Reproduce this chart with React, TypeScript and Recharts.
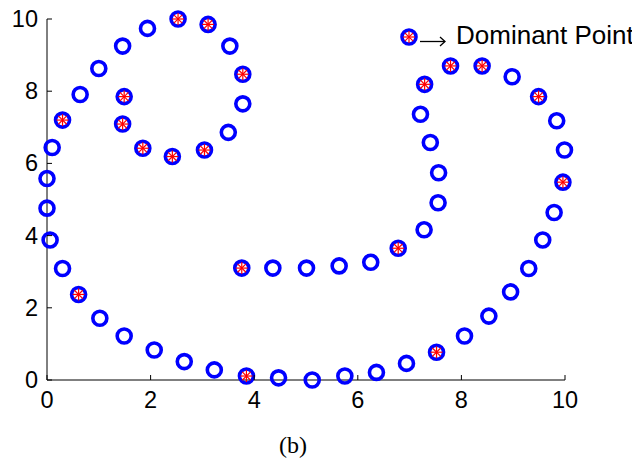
import React from 'react';
import { ScatterChart, Scatter, XAxis, YAxis } from 'recharts';

// contour points, in drawing order
const spiralX = [
  3.76, 4.36, 5.01, 5.64, 6.25, 6.78, 7.28, 7.55, 7.56, 7.4, 7.21, 7.29, 7.79, 8.4, 8.98,
  9.49, 9.84, 9.99, 9.96, 9.79, 9.57, 9.3, 8.95, 8.53, 8.06, 7.52, 6.94, 6.36, 5.75, 5.12,
  4.47, 3.85, 3.23, 2.65, 2.07, 1.49, 1.02, 0.61, 0.3, 0.06, 0.0, 0.0, 0.1, 0.3, 0.64,
  1.0, 1.46, 1.94, 2.53, 3.11, 3.53, 3.78, 3.78, 3.5, 3.04, 2.42, 1.85, 1.46, 1.49,
];
const spiralY = [
  3.1, 3.1, 3.1, 3.16, 3.26, 3.65, 4.16, 4.91, 5.74, 6.58, 7.36, 8.19, 8.7, 8.7, 8.4,
  7.85, 7.18, 6.37, 5.48, 4.64, 3.88, 3.09, 2.44, 1.77, 1.22, 0.77, 0.46, 0.21, 0.11, 0.0,
  0.06, 0.11, 0.28, 0.51, 0.83, 1.22, 1.71, 2.37, 3.09, 3.88, 4.76, 5.58, 6.44, 7.2, 7.91,
  8.63, 9.25, 9.74, 10.0, 9.85, 9.25, 8.47, 7.65, 6.86, 6.37, 6.19, 6.42, 7.09, 7.85,
];

// dominant points
const dominantX = [3.76, 6.78, 7.29, 7.79, 8.4, 9.49, 9.96, 7.52, 3.85, 0.61, 0.3, 2.53, 3.11, 3.78, 3.04, 2.42, 1.85, 1.46, 1.49];
const dominantY = [3.1, 3.65, 8.19, 8.7, 8.7, 7.85, 5.48, 0.77, 0.11, 2.37, 7.2, 10.0, 9.85, 8.47, 6.37, 6.19, 6.42, 7.09, 7.85];

const axisTicks = [0, 2, 4, 6, 8, 10];
const legendLabel = 'Dominant Point';
const caption = '(b)';

const spiral = spiralX.map((x, i) => ({ x, y: spiralY[i] }));
const dominant = dominantX.map((x, i) => ({ x, y: dominantY[i] }));

const BLUE = '#0000ff';
const RED = '#ff0000';
const FONT = 'Arial, "Liberation Sans", Helvetica, sans-serif';

const Ring = (props: any) => {
  const { cx, cy } = props;
  return <circle cx={cx} cy={cy} r={7} fill="none" stroke={BLUE} strokeWidth={3.6} />;
};

const Star = ({ cx, cy }: any) => {
  const d = 4.2;
  return (
    <g stroke={RED} strokeWidth={1.2}>
      <line x1={cx - 6} y1={cy} x2={cx + 6} y2={cy} />
      <line x1={cx} y1={cy - 6} x2={cx} y2={cy + 6} />
      <line x1={cx - d} y1={cy - d} x2={cx + d} y2={cy + d} />
      <line x1={cx - d} y1={cy + d} x2={cx + d} y2={cy - d} />
    </g>
  );
};

const XTick = ({ x, y, payload }: any) => (
  <g>
    <line x1={x} y1={y} x2={x} y2={y - 5} stroke="#000" />
    <text x={x} y={y + 28} textAnchor="middle" fontSize={23.5} fontFamily={FONT} fill="#000">
      {payload.value}
    </text>
  </g>
);

const YTick = ({ x, y, payload }: any) => (
  <g>
    <line x1={x} y1={y} x2={x + 5} y2={y} stroke="#000" />
    <text x={x - 9} y={y + 8} textAnchor="end" fontSize={23.5} fontFamily={FONT} fill="#000">
      {payload.value}
    </text>
  </g>
);

export default function App() {
  return (
    <div style={{ position: 'absolute', left: 0, top: 0, width: 632, height: 462, background: '#fff' }}>
      <ScatterChart width={632} height={462} margin={{ top: 19, right: 67, bottom: 52, left: 7 }}>
        <XAxis
          type="number"
          dataKey="x"
          domain={[0, 10]}
          ticks={axisTicks}
          height={30}
          axisLine={{ stroke: '#000' }}
          tickLine={false}
          tickSize={0}
          tickMargin={0}
          tick={<XTick />}
        />
        <YAxis
          type="number"
          dataKey="y"
          domain={[0, 10]}
          ticks={axisTicks}
          width={40}
          axisLine={{ stroke: '#000' }}
          tickLine={false}
          tickSize={0}
          tickMargin={0}
          tick={<YTick />}
        />
        <Scatter data={spiral} shape={<Ring />} isAnimationActive={false} />
        <Scatter data={dominant} shape={<Star />} isAnimationActive={false} />
      </ScatterChart>
      <svg width={632} height={462} style={{ position: 'absolute', left: 0, top: 0, pointerEvents: 'none' }}>
        <Ring cx={409} cy={37} />
        <Star cx={409} cy={37} />
        {/* long right arrow of the legend */}
        <g stroke="#000" strokeWidth={1.3} fill="none">
          <line x1={420} y1={41.5} x2={445} y2={41.5} />
          <polyline points="440,37 445,41.5 440,46" />
        </g>
        <text x={456} y={44} fontSize={26} fontFamily={FONT} fill="#000">{legendLabel}</text>
        <text x={293} y={453} textAnchor="middle" fontSize={24} fontFamily='"Liberation Serif", "Times New Roman", serif' fill="#000">
          {caption}
        </text>
      </svg>
    </div>
  );
}
